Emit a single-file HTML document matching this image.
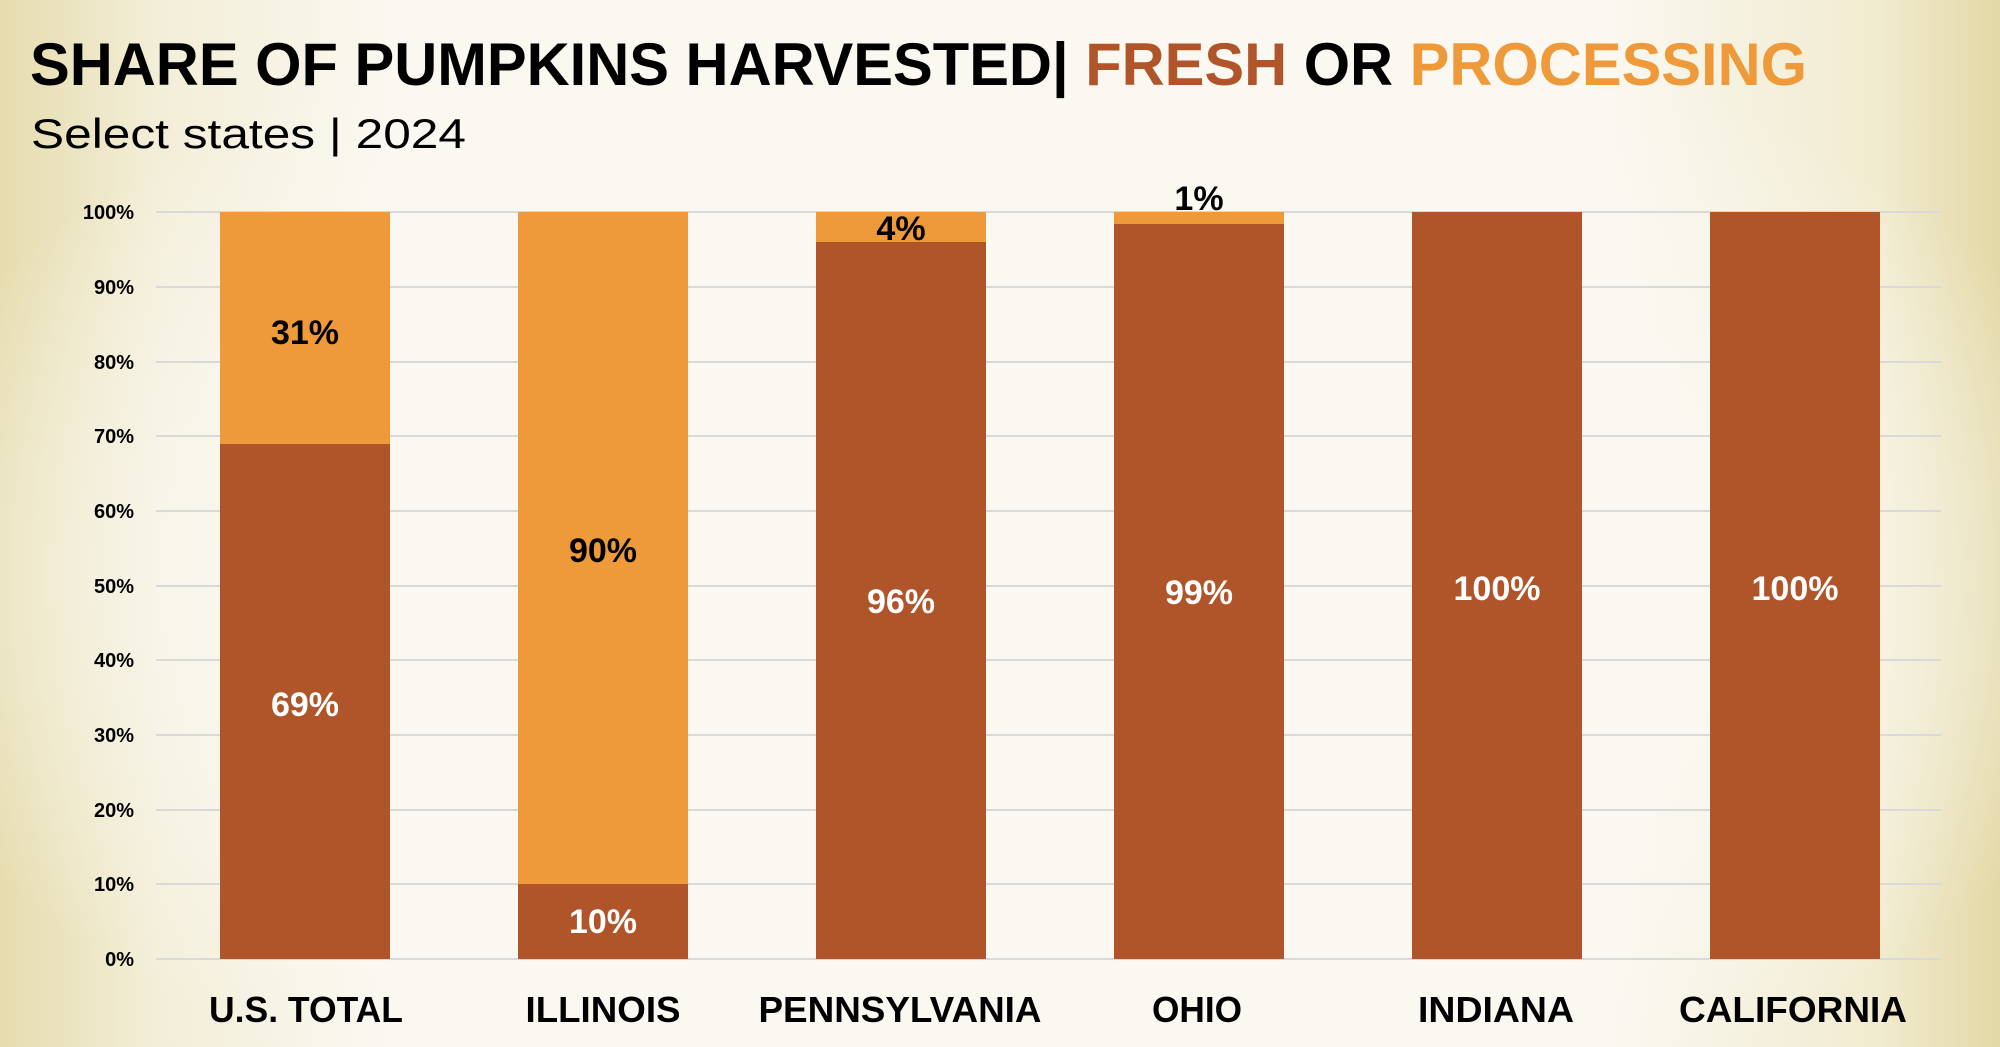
<!DOCTYPE html>
<html><head><meta charset="utf-8"><style>
html,body{margin:0;padding:0}
body{width:2000px;height:1047px;overflow:hidden;background:#faf8f1;}
.bg{position:absolute;left:0;top:0;width:2000px;height:1047px;
background:
radial-gradient(ellipse 1150px 620px at 50% 55%, rgba(250,248,241,1) 60%, rgba(250,248,241,0) 100%),
linear-gradient(90deg,#e6dcae 0%, #f3eed8 8%, #faf8f1 20%, #faf8f1 80%, #f1ebcf 94%, #e3d8a6 100%);}
</style></head><body>
<div class="bg"></div>
<svg width="2000" height="1047" style="position:absolute;left:0;top:0" font-family="'Liberation Sans', sans-serif">
<text x="30" y="85" font-size="60" font-weight="bold" textLength="1777" lengthAdjust="spacingAndGlyphs" fill="#000">SHARE OF PUMPKINS HARVESTED| <tspan fill="#b0552a">FRESH</tspan> OR <tspan fill="#ef9a3a">PROCESSING</tspan></text>
<text x="31" y="148" font-size="42" textLength="435" lengthAdjust="spacingAndGlyphs" fill="#000">Select states | 2024</text>
<g stroke="#d9d9d9" stroke-width="2">
<line x1="156" x2="1941" y1="212" y2="212"/><line x1="156" x2="1941" y1="287" y2="287"/>
<line x1="156" x2="1941" y1="362" y2="362"/><line x1="156" x2="1941" y1="436" y2="436"/>
<line x1="156" x2="1941" y1="511" y2="511"/><line x1="156" x2="1941" y1="586" y2="586"/>
<line x1="156" x2="1941" y1="660" y2="660"/><line x1="156" x2="1941" y1="735" y2="735"/>
<line x1="156" x2="1941" y1="810" y2="810"/><line x1="156" x2="1941" y1="884" y2="884"/>
<line x1="156" x2="1941" y1="959" y2="959"/>
</g>
<g font-size="20" font-weight="bold" text-anchor="end" fill="#000">
<text x="134" y="219">100%</text><text x="134" y="294">90%</text><text x="134" y="369">80%</text>
<text x="134" y="443">70%</text><text x="134" y="518">60%</text><text x="134" y="593">50%</text>
<text x="134" y="667">40%</text><text x="134" y="742">30%</text><text x="134" y="817">20%</text>
<text x="134" y="891">10%</text><text x="134" y="966">0%</text>
</g>
<g fill="#ef9a3a">
<rect x="220" y="212" width="170" height="232"/><rect x="518" y="212" width="170" height="672"/>
<rect x="816" y="212" width="170" height="30"/><rect x="1114" y="212" width="170" height="12"/>
</g>
<g fill="#b0552a">
<rect x="220" y="444" width="170" height="515"/><rect x="518" y="884" width="170" height="75"/>
<rect x="816" y="242" width="170" height="717"/><rect x="1114" y="224" width="170" height="735"/>
<rect x="1412" y="212" width="170" height="747"/><rect x="1710" y="212" width="170" height="747"/>
</g>
<g font-size="34" font-weight="bold" text-anchor="middle">
<text x="305" y="344" fill="#000">31%</text><text x="305" y="716" fill="#fff">69%</text>
<text x="603" y="562" fill="#000">90%</text><text x="603" y="933" fill="#fff">10%</text>
<text x="901" y="240" fill="#000">4%</text><text x="901" y="613" fill="#fff">96%</text>
<text x="1199" y="210" fill="#000">1%</text><text x="1199" y="604" fill="#fff">99%</text>
<text x="1497" y="600" fill="#fff">100%</text><text x="1795" y="600" fill="#fff">100%</text>
</g>
<g font-size="36" font-weight="bold" text-anchor="middle" fill="#000">
<text x="306" y="1022" textLength="194" lengthAdjust="spacingAndGlyphs">U.S. TOTAL</text>
<text x="603" y="1022" textLength="155" lengthAdjust="spacingAndGlyphs">ILLINOIS</text>
<text x="900" y="1022" textLength="283" lengthAdjust="spacingAndGlyphs">PENNSYLVANIA</text>
<text x="1197" y="1022" textLength="90" lengthAdjust="spacingAndGlyphs">OHIO</text>
<text x="1496" y="1022" textLength="156" lengthAdjust="spacingAndGlyphs">INDIANA</text>
<text x="1793" y="1022" textLength="228" lengthAdjust="spacingAndGlyphs">CALIFORNIA</text>
</g>
</svg>
</body></html>
